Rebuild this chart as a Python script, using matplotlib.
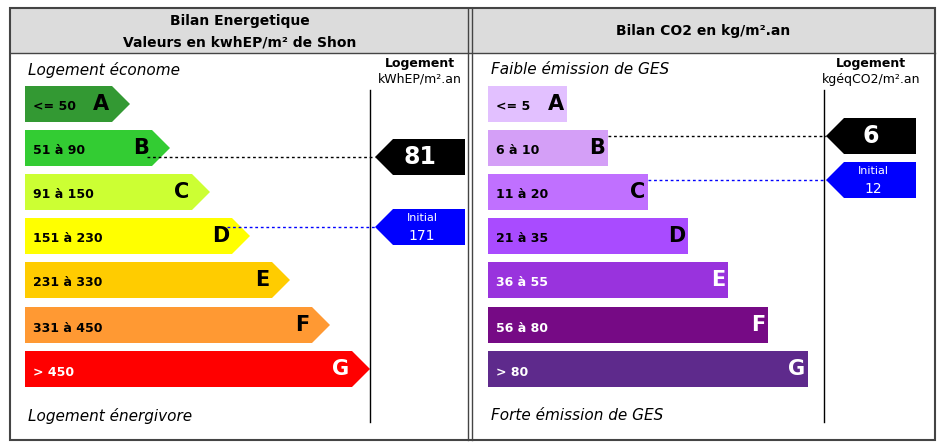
import matplotlib
matplotlib.use("Agg")
import matplotlib.pyplot as plt
from matplotlib.patches import Polygon, Rectangle

letters = ["A", "B", "C", "D", "E", "F", "G"]
energy_ranges = ["<= 50", "51 à 90", "91 à 150", "151 à 230", "231 à 330", "331 à 450", "> 450"]
energy_colors = ["#339933", "#33cc33", "#ccff33", "#ffff00", "#ffcc00", "#ff9933", "#ff0000"]
co2_ranges = ["<= 5", "6 à 10", "11 à 20", "21 à 35", "36 à 55", "56 à 80", "> 80"]
co2_colors = ["#e2c0ff", "#d49ff7", "#c070ff", "#a94bff", "#9933dd", "#760a85", "#5e2a8c"]
energy_value, energy_initial = 81, 171
co2_value, co2_initial = 6, 12
energy_class, energy_initial_class = 1, 3
co2_class, co2_initial_class = 1, 2

fig = plt.figure(figsize=(9.45, 4.46), dpi=100)
ax = fig.add_axes([0, 0, 1, 1])
ax.set_xlim(0, 945); ax.set_ylim(446, 0); ax.axis("off")

# table
ax.add_patch(Rectangle((10, 8), 925, 45, facecolor="#dcdcdc", edgecolor="none"))
ax.add_patch(Rectangle((10, 8), 925, 432, facecolor="none", edgecolor="#444444", lw=1.5))
ax.plot([10, 935], [53, 53], color="#444444", lw=1)
ax.plot([468, 468], [8, 440], color="#444444", lw=1)
ax.plot([472, 472], [8, 440], color="#444444", lw=1)
ax.text(240, 21, "Bilan Energetique", ha="center", va="center", fontsize=10, fontweight="bold")
ax.text(240, 42, "Valeurs en kwhEP/m² de Shon", ha="center", va="center", fontsize=10, fontweight="bold")
ax.text(703, 31, "Bilan CO2 en kg/m².an", ha="center", va="center", fontsize=10, fontweight="bold")

row_y = [104, 148, 192, 236, 280, 325, 369]
h = 36

def panel(x0, ranges, colors, ends, arrow, vline_x, tag_x, top_lbl, unit, bottom_lbl,
          val, val_cls, ini, ini_cls, val_y, ini_y, lbl_white_from):
    ax.text(x0 + 3, 70, top_lbl, fontsize=11, style="italic", va="center")
    ax.text(x0 + 3, 416, bottom_lbl, fontsize=11, style="italic", va="center")
    for i, (r, c) in enumerate(zip(ranges, colors)):
        y = row_y[i]; e = ends[i]
        if arrow:
            pts = [(x0, y - h / 2), (e, y - h / 2), (e + 18, y), (e, y + h / 2), (x0, y + h / 2)]
        else:
            pts = [(x0, y - h / 2), (e, y - h / 2), (e, y + h / 2), (x0, y + h / 2)]
        ax.add_patch(Polygon(pts, closed=True, facecolor=c, edgecolor="none"))
        tc = "white" if i >= lbl_white_from else "black"
        ax.text(x0 + 8, y + 3, r, fontsize=9, fontweight="bold", va="center", color=tc)
        ax.text(e - 3, y, letters[i], fontsize=15, fontweight="bold", va="center", ha="right", color=tc)
    ax.plot([vline_x, vline_x], [90, 422], color="black", lw=1)
    ax.text(tag_x + 45, 64, "Logement", fontsize=9, fontweight="bold", ha="center", va="center")
    ax.text(tag_x + 45, 79, unit, fontsize=9, ha="center", va="center")
    for cls, yy, col, lab, sm in [(val_cls, val_y, "black", str(val), False),
                                  (ini_cls, ini_y, "blue", str(ini), True)]:
        xe = ends[cls] + (18 if arrow else 0) - (18 if arrow and False else 0)
        xs = ends[cls] - 5 if arrow else ends[cls]
        ax.plot([xs, tag_x], [yy, yy], ls=(0, (2, 2)), color=col, lw=1)
        pts = [(tag_x, yy), (tag_x + 18, yy - 18), (tag_x + 90, yy - 18),
               (tag_x + 90, yy + 18), (tag_x + 18, yy + 18)]
        ax.add_patch(Polygon(pts, closed=True, facecolor=col, edgecolor="none"))
        if sm:
            ax.text(tag_x + 47, yy - 9, "Initial", fontsize=8, color="white", ha="center", va="center")
            ax.text(tag_x + 47, yy + 9, lab, fontsize=10, color="white", ha="center", va="center")
        else:
            ax.text(tag_x + 45, yy, lab, fontsize=17, fontweight="bold", color="white", ha="center", va="center")

panel(25, energy_ranges, energy_colors, [112, 152, 192, 232, 272, 312, 352], True, 370, 375,
      "Logement économe", "kWhEP/m².an", "Logement énergivore",
      energy_value, energy_class, energy_initial, energy_initial_class, 157, 227, 6)
panel(488, co2_ranges, co2_colors, [567, 608, 648, 688, 728, 768, 808], False, 824, 826,
      "Faible émission de GES", "kgéqCO2/m².an", "Forte émission de GES",
      co2_value, co2_class, co2_initial, co2_initial_class, 136, 180, 4)

fig.savefig("out.png", dpi=100)
